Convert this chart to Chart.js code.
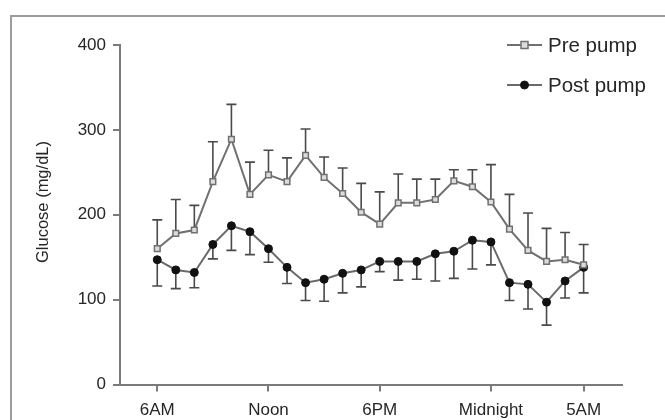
<!DOCTYPE html>
<html>
<head>
<meta charset="utf-8">
<script src="https://cdn.jsdelivr.net/npm/chart.js@4/dist/chart.umd.min.js"></script>
<style>
  html, body { margin: 0; padding: 0; background: #ffffff; }
  #wrap { position: relative; width: 665px; height: 420px; overflow: hidden; }
  #frame { position: absolute; left: 10px; top: 15px; width: 700px; height: 500px;
           border-top: 2px solid #9c9c9c; border-left: 2px solid #9c9c9c; box-sizing: border-box; }
  canvas { position: absolute; left: 0; top: 0; }
</style>
</head>
<body>
<div id="wrap">
  <div id="frame"></div>
  <canvas id="c" width="665" height="420"></canvas>
</div>
<script>
// Hours after 6AM (0 = 6AM ... 23 = 5AM)
const hours = [0,1,2,3,4,5,6,7,8,9,10,11,12,13,14,15,16,17,18,19,20,21,22,23];
const tickHours = [0, 6, 12, 18, 23];
const tickLabels = ['6AM', 'Noon', '6PM', 'Midnight', '5AM'];
const yTicks = [0, 100, 200, 300, 400];

const preMean  = [160,178,182,239,289,224,247,239,270,244,225,203,189,214,214,218,240,233,215,183,158,145,147,141];
const preUpper = [194,218,211,286,330,262,276,267,301,268,255,237,227,248,242,242,253,253,259,224,202,184,179,165];
const postMean  = [147,135,132,165,187,180,160,138,120,124,131,135,145,145,145,154,157,170,168,120,118,97,122,138];
const postLower = [116,113,114,148,158,153,144,119,99,98,108,115,133,123,124,122,125,136,141,99,89,70,102,108];

const seriesNames = ['Pre pump', 'Post pump'];
const yTitle = 'Glucose (mg/dL)';

const FONT = "'Liberation Sans', Arial, Helvetica, sans-serif";
const AXIS = '#7a7a7a';
const TXT = '#262626';

const errorBars = {
  id: 'errorBars',
  beforeDatasetsDraw(chart) {
    const ctx = chart.ctx, xs = chart.scales.x, ys = chart.scales.y;
    const bounds = [preUpper, postLower];
    const means = [preMean, postMean];
    ctx.save();
    ctx.strokeStyle = '#4a4a4a';
    ctx.lineWidth = 1.6;
    for (let d = 0; d < 2; d++) {
      hours.forEach((h, i) => {
        const x = xs.getPixelForValue(h);
        const y0 = ys.getPixelForValue(means[d][i]);
        const y1 = ys.getPixelForValue(bounds[d][i]);
        ctx.beginPath();
        ctx.moveTo(x, y0); ctx.lineTo(x, y1);
        ctx.moveTo(x - 5, y1); ctx.lineTo(x + 5, y1);
        ctx.stroke();
      });
    }
    ctx.restore();
  }
};

const customText = {
  id: 'customText',
  afterDraw(chart) {
    const ctx = chart.ctx, ca = chart.chartArea;
    ctx.save();
    // y axis title
    ctx.fillStyle = TXT;
    ctx.font = '16.5px ' + FONT;
    ctx.translate(43, 202);
    ctx.rotate(-Math.PI / 2);
    ctx.textAlign = 'center';
    ctx.textBaseline = 'middle';
    ctx.fillText(yTitle, 0, 0);
    ctx.restore();

    // legend
    ctx.save();
    const lx0 = ca.right - 115, lx1 = ca.right - 80, tx = ca.right - 74;
    const lys = [ca.top, ca.top + 40];
    chart.data.datasets.forEach((ds, k) => {
      const y = lys[k];
      ctx.strokeStyle = ds.borderColor;
      ctx.lineWidth = 2;
      ctx.beginPath(); ctx.moveTo(lx0, y); ctx.lineTo(lx1, y); ctx.stroke();
      const mx = (lx0 + lx1) / 2;
      ctx.fillStyle = ds.pointBackgroundColor;
      ctx.strokeStyle = ds.pointBorderColor;
      ctx.lineWidth = ds.pointBorderWidth;
      ctx.beginPath();
      if (ds.pointStyle === 'rect') {
        ctx.rect(mx - 3.5, y - 3.5, 7, 7);
      } else {
        ctx.arc(mx, y, 4, 0, Math.PI * 2);
      }
      ctx.fill(); ctx.stroke();
      ctx.fillStyle = TXT;
      ctx.font = '20.5px ' + FONT;
      ctx.textAlign = 'left';
      ctx.textBaseline = 'middle';
      ctx.fillText(ds.label, tx, y + 1);
    });
    ctx.restore();
  }
};

new Chart(document.getElementById('c'), {
  type: 'line',
  data: {
    datasets: [
      {
        label: seriesNames[0],
        data: hours.map((h, i) => ({ x: h, y: preMean[i] })),
        borderColor: '#707070',
        borderWidth: 2,
        pointStyle: 'rect',
        pointRadius: 4,
        pointBackgroundColor: '#dcdcdc',
        pointBorderColor: '#707070',
        pointBorderWidth: 1.5,
        tension: 0
      },
      {
        label: seriesNames[1],
        data: hours.map((h, i) => ({ x: h, y: postMean[i] })),
        borderColor: '#6a6a6a',
        borderWidth: 2,
        pointStyle: 'circle',
        pointRadius: 4,
        pointBackgroundColor: '#111111',
        pointBorderColor: '#111111',
        pointBorderWidth: 1,
        tension: 0
      }
    ]
  },
  options: {
    responsive: false,
    animation: false,
    layout: { padding: { top: 45, right: 43, left: 10, bottom: 0 } },
    plugins: { legend: { display: false }, tooltip: { enabled: false } },
    scales: {
      x: {
        type: 'linear',
        min: -2.01,
        max: 25.07,
        afterBuildTicks(scale) { scale.ticks = tickHours.map(v => ({ value: v })); },
        afterFit(scale) { scale.height = 35.5; },
        ticks: {
          callback(v) { const k = tickHours.indexOf(v); return k >= 0 ? tickLabels[k] : ''; },
          font: { family: FONT, size: 17 },
          color: TXT,
          padding: 9,
          maxRotation: 0,
          autoSkip: false
        },
        grid: { drawOnChartArea: false, drawTicks: true, tickLength: 7, color: AXIS, lineWidth: 2 },
        border: { display: true, color: AXIS, width: 2 }
      },
      y: {
        min: 0,
        max: 400,
        afterBuildTicks(scale) { scale.ticks = yTicks.map(v => ({ value: v })); },
        afterFit(scale) { scale.width = 110; },
        ticks: {
          font: { family: FONT, size: 17 },
          color: TXT,
          padding: 7
        },
        grid: { drawOnChartArea: false, drawTicks: true, tickLength: 7, color: AXIS, lineWidth: 2 },
        border: { display: true, color: AXIS, width: 2 }
      }
    }
  },
  plugins: [errorBars, customText]
});
</script>
</body>
</html>
